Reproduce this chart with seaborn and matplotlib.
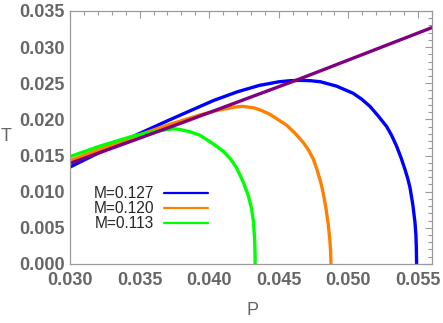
import pandas as pd
import matplotlib
matplotlib.use("Agg")
import matplotlib.pyplot as plt
import seaborn as sns
from matplotlib.ticker import MultipleLocator, FormatStrFormatter

# curves
p_127 = [0.0300, 0.0322, 0.0346, 0.0370, 0.0390, 0.0403, 0.0420, 0.0436, 0.0450,
         0.0458, 0.0465, 0.0473, 0.0480, 0.04915, 0.05035, 0.05095, 0.05155,
         0.05215, 0.05275, 0.0531, 0.05346, 0.05376, 0.05406, 0.05425, 0.05442,
         0.05462, 0.05478, 0.05485, 0.05488, 0.0549]
t_127 = [0.0134, 0.0155, 0.0177, 0.0198, 0.0215, 0.0226, 0.0238, 0.0247, 0.0252,
         0.02535, 0.0254, 0.02535, 0.0252, 0.0246, 0.0236, 0.0228, 0.0218,
         0.02045, 0.0190, 0.0178, 0.0163, 0.0148, 0.0131, 0.0119, 0.0106,
         0.0083, 0.0058, 0.0040, 0.0022, 0.0]

p_120 = [0.0300, 0.0322, 0.0346, 0.0370, 0.0393, 0.0405, 0.0418, 0.0424, 0.0432,
         0.0438, 0.04436, 0.04556, 0.04616, 0.04676, 0.04712, 0.04748, 0.04772,
         0.0480, 0.04819, 0.04838, 0.04855, 0.04866, 0.04872, 0.04875]
t_120 = [0.0143, 0.0159, 0.0176, 0.0192, 0.0206, 0.0212, 0.0217, 0.0218, 0.0216,
         0.0212, 0.0207, 0.0192, 0.0181, 0.0168, 0.0158, 0.0145, 0.0132,
         0.0114, 0.0098, 0.0078, 0.0055, 0.0035, 0.0018, 0.0]

p_113 = [0.0300, 0.03215, 0.03455, 0.03575, 0.03695, 0.0375, 0.0379, 0.0386,
         0.03934, 0.0403, 0.0410, 0.0415, 0.04197, 0.04245, 0.0428, 0.04305,
         0.04318, 0.04326, 0.04329, 0.0433]
t_113 = [0.01485, 0.0163, 0.0177, 0.0182, 0.0186, 0.0187, 0.0186, 0.0183,
         0.0178, 0.0166, 0.0156, 0.0146, 0.0133, 0.0113, 0.0095, 0.0076,
         0.0058, 0.0035, 0.0018, 0.0]

p_line = [0.030, 0.038, 0.0465, 0.056]
t_line = [0.0139, 0.0195, 0.0256, 0.0327]

labels = ["M=0.127", "M=0.120", "M=0.113"]
colors = ["#0000ff", "#ff8000", "#00ff00"]


def main():
    sns.set_style("white")
    plt.rcParams['font.family'] = ['Liberation Sans', 'DejaVu Sans']

    frames = []
    for lab, p, t in zip(labels, [p_127, p_120, p_113], [t_127, t_120, t_113]):
        frames.append(pd.DataFrame({'P': p, 'T': t, 'M': lab}))
    df = pd.concat(frames, ignore_index=True)
    line_df = pd.DataFrame({'P': p_line, 'T': t_line})

    fig = plt.figure(figsize=(4.43, 3.23), dpi=100)
    ax = fig.add_axes([0.158, 0.183, 0.817, 0.783])

    sns.lineplot(data=df, x='P', y='T', hue='M', palette=colors, sort=False,
                 estimator=None, linewidth=2.4, ax=ax, legend=False)
    sns.lineplot(data=line_df, x='P', y='T', color='#800080', linewidth=2.4,
                 estimator=None, sort=False, ax=ax, legend=False)
    for ln in ax.lines:
        ln.set_solid_joinstyle('round')

    ax.set_xlim(0.030, 0.056)
    ax.set_ylim(0.0, 0.035)
    ax.xaxis.set_major_locator(MultipleLocator(0.005))
    ax.xaxis.set_minor_locator(MultipleLocator(0.001))
    ax.yaxis.set_major_locator(MultipleLocator(0.005))
    ax.yaxis.set_minor_locator(MultipleLocator(0.001))
    ax.xaxis.set_major_formatter(FormatStrFormatter('%.3f'))
    ax.yaxis.set_major_formatter(FormatStrFormatter('%.3f'))

    gray = '#9a9a9a'
    for s in ax.spines.values():
        s.set_color(gray)
        s.set_linewidth(0.9)
    ax.tick_params(which='both', direction='in', top=True, right=True,
                   color=gray, width=0.8)
    ax.tick_params(which='major', length=5, labelsize=13, labelcolor='#666666')
    ax.tick_params(axis='x', which='major', pad=6)
    ax.tick_params(axis='y', which='major', pad=4)
    ax.tick_params(which='minor', length=3)
    for lab in ax.get_xticklabels() + ax.get_yticklabels():
        lab.set_fontweight('bold')

    ax.set_xlabel("P", fontsize=13, color='#666666')
    ax.xaxis.set_label_coords(0.503, -0.186)
    ax.xaxis.label.set_va('center')
    ax.set_ylabel("T", fontsize=13, color='#666666', rotation=0,
                  ha='center', va='center')
    ax.yaxis.set_label_coords(-0.177, 0.502)

    handles = [plt.Line2D([], [], color=c, linewidth=1.6) for c in colors]
    ax.legend(handles, labels, loc='upper left', bbox_to_anchor=(0.066, 0.308),
              frameon=False, markerfirst=False, fontsize=11.2, handlelength=2.8,
              labelspacing=0.0, handletextpad=0.65, borderpad=0.0,
              borderaxespad=0.0)

    fig.savefig("out.png", dpi=100)
    plt.close('all')


if __name__ == "__main__":
    main()
